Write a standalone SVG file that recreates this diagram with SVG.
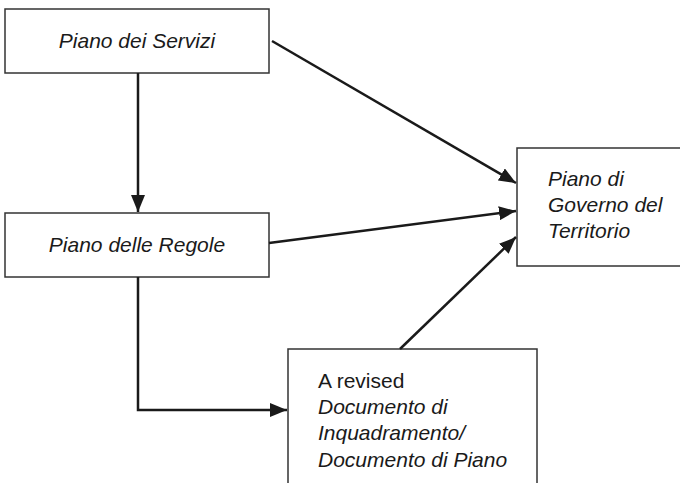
<svg xmlns="http://www.w3.org/2000/svg" width="680" height="483" viewBox="0 0 680 483">
<style>
.box{fill:#fff;stroke:#333;stroke-width:1.5}
.t{font-family:"Liberation Sans",Arial,sans-serif;font-size:21px;fill:#1a1a1a}
.i{font-style:italic}
.c{stroke:#1a1a1a;stroke-width:2.5;fill:none}
</style>
<defs>
<marker id="ah" markerUnits="userSpaceOnUse" markerWidth="18" markerHeight="14" refX="17" refY="7" orient="auto">
<path d="M0,0 L17,7 L0,14 Z" fill="#1a1a1a"/>
</marker>
</defs>
<rect width="680" height="483" fill="#fff"/>
<g id="piano-servizi">
<rect class="box" x="5" y="9" width="264" height="64"/>
<text class="t i" x="137" y="48" text-anchor="middle">Piano dei Servizi</text>
</g>
<g id="piano-regole">
<rect class="box" x="5" y="213" width="264" height="64"/>
<text class="t i" x="137" y="252" text-anchor="middle">Piano delle Regole</text>
</g>
<g id="pgt">
<rect class="box" x="517" y="148" width="180" height="118"/>
<text class="t i" x="548" y="186">Piano di</text>
<text class="t i" x="548" y="212">Governo del</text>
<text class="t i" x="548" y="238">Territorio</text>
</g>
<g id="documento">
<rect class="box" x="288" y="349" width="249" height="150"/>
<text class="t" x="318" y="388">A revised</text>
<text class="t i" x="318" y="414">Documento di</text>
<text class="t i" x="318" y="440">Inquadramento/</text>
<text class="t i" x="318" y="467">Documento di Piano</text>
</g>
<g id="connectors">
<line class="c" x1="272" y1="41" x2="516" y2="183" marker-end="url(#ah)"/>
<line class="c" x1="138" y1="73" x2="138" y2="212" marker-end="url(#ah)"/>
<line class="c" x1="269" y1="243" x2="516" y2="211" marker-end="url(#ah)"/>
<polyline class="c" points="138,277 138,410 287,410" marker-end="url(#ah)"/>
<line class="c" x1="400" y1="349" x2="516" y2="237" marker-end="url(#ah)"/>
</g>
</svg>
